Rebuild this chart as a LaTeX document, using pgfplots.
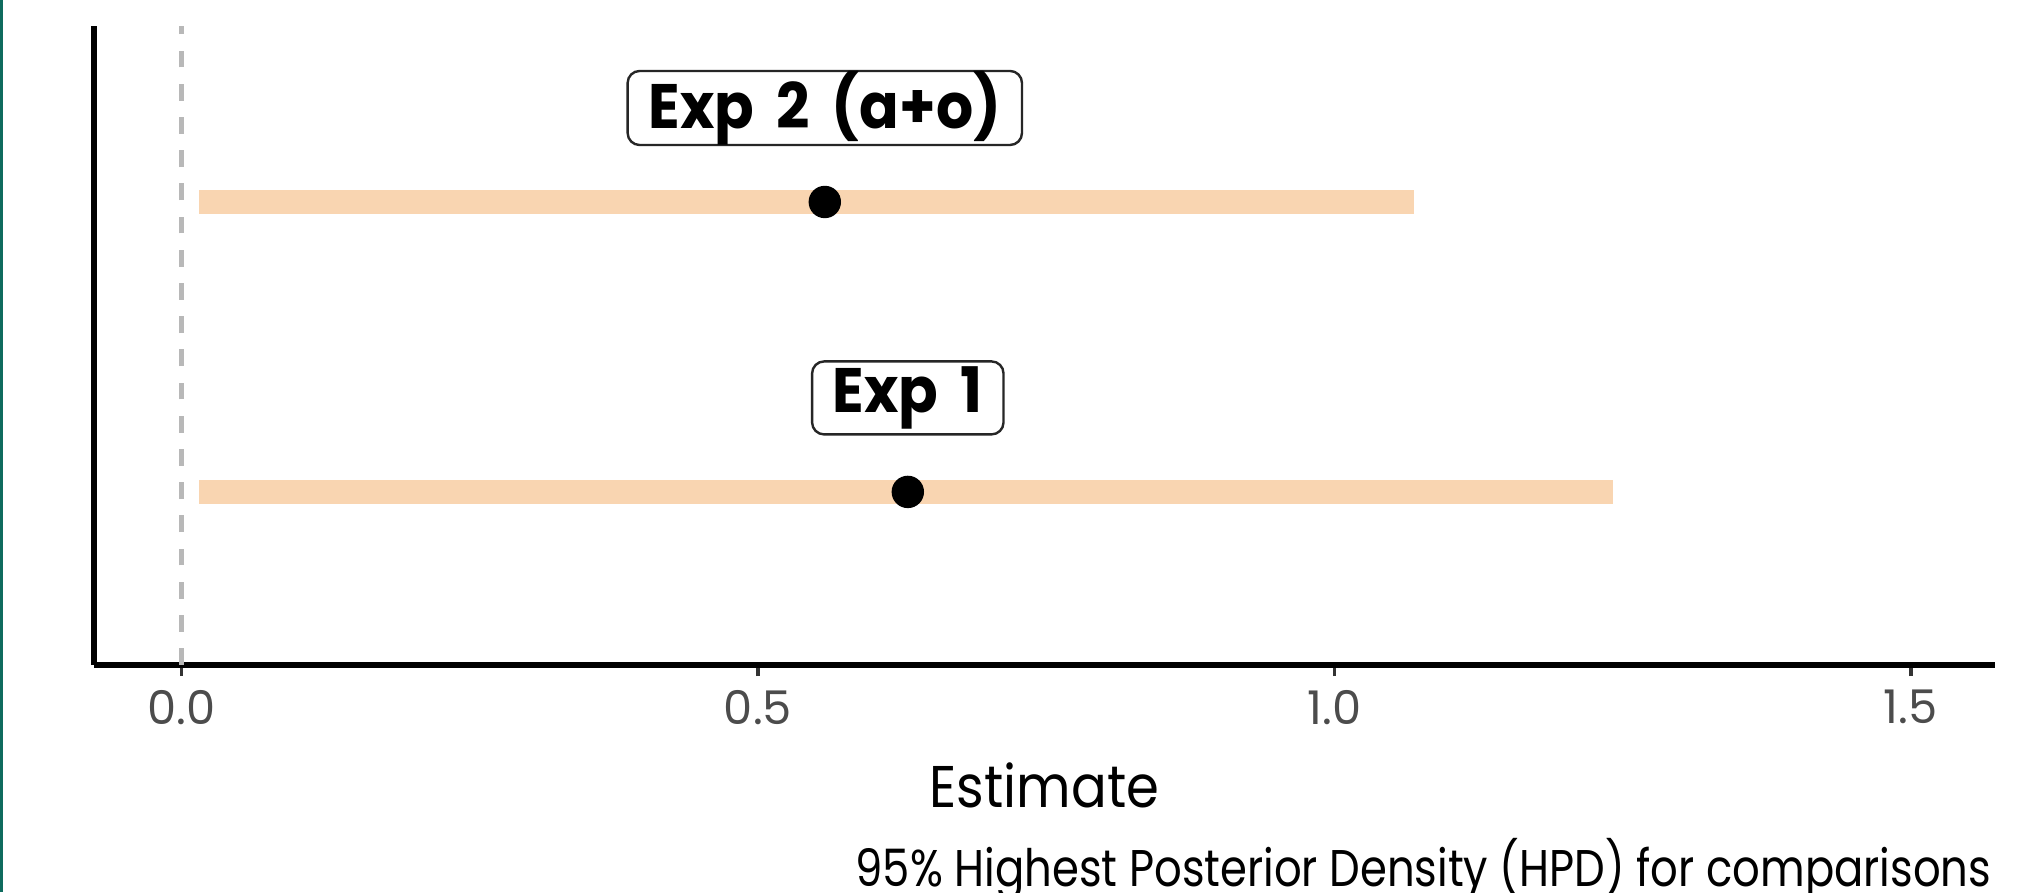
\documentclass[border=0pt]{standalone}
\usepackage{pgfplots}
\pgfplotsset{compat=1.18}
\usepackage{fontspec}
\setmainfont{Poppins}
\newfontfamily\tickfont{Poppins}
\newfontfamily\capfont[FakeStretch=0.84]{Poppins}
\newfontfamily\xlabfont[FakeStretch=0.9]{Poppins}
\newfontfamily\labfont[FakeStretch=0.93,WordSpace=1.8]{Poppins}
\definecolor{barc}{HTML}{F9D5B1}
\definecolor{edgegreen}{HTML}{0E6B5E}
\begin{document}
\begin{tikzpicture}[x=1pt,y=1pt]
\useasboundingbox (0,0) rectangle (504.5,223);
\fill[white] (0,0) rectangle (504.5,223);
\fill[edgegreen] (0,0) rectangle (0.8,223);
\begin{axis}[
  at={(23.5pt,56.75pt)}, anchor=south west,
  scale only axis, width=475.25pt, height=159.75pt,
  xmin=-0.0759, xmax=1.573, ymin=0.403, ymax=2.607,
  axis x line*=bottom, axis y line*=left,
  axis line style={-, line width=1.4pt, black},
  xtick={0,0.5,1,1.5}, ytick=\empty,
  tick align=outside, major tick length=2.8pt,
  tick style={line width=0.9pt, color=black!80},
  xticklabel style={font=\tickfont\fontsize{11.6}{12}\selectfont, text=black!70,
    /pgf/number format/.cd, fixed, fixed zerofill, precision=1, assume math mode=true},
  xlabel={Estimate},
  xlabel style={at={(axis description cs:0.5,0)}, anchor=center, yshift=-30pt,
    font=\xlabfont\fontsize{14.7}{16}\selectfont},
  clip=false,
]
\addplot[color=black!28, line width=1.1pt, dash pattern=on 4.2pt off 4.1pt] coordinates {(0,0.403) (0,2.607)};
\addplot[barc, line width=6.2pt] coordinates {(0.0156,1) (1.242,1)};
\addplot[barc, line width=6.2pt] coordinates {(0.0156,2) (1.069,2)};
\addplot[only marks, mark=*, mark size=3.85pt, black] coordinates {(0.630,1) (0.558,2)};
\addplot[draw=none, nodes near coords, point meta=explicit symbolic,
  every node near coord/.style={draw=black!85, line width=0.6pt, rounded corners=3pt,
    fill=white, text=black, font=\labfont\bfseries\fontsize{15.7}{18}\selectfont,
    inner xsep=5.2pt, inner ysep=0pt, minimum height=18.25pt, anchor=center, yshift=23.5pt}]
  table[col sep=comma, row sep=\\, meta=lab] {x,y,lab\\0.630,1,Exp 1\\0.558,2,Exp 2 (a+o)\\};
\end{axis}
\node[anchor=base east, font=\capfont\fontsize{12.9}{14}\selectfont, inner sep=0pt] at (498,1.5)
  {95\% Highest Posterior Density (HPD) for comparisons};
\end{tikzpicture}
\end{document}
